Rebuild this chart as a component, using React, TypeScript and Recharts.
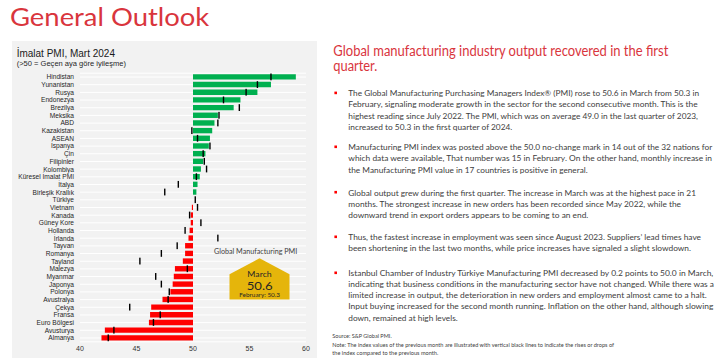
import React from 'react';
import { BarChart, Bar, XAxis, YAxis, CartesianGrid, Cell } from 'recharts';

const countries = [
  'Hindistan', 'Yunanistan', 'Rusya', 'Endonezya', 'Brezilya', 'Meksika', 'ABD', 'Kazakistan',
  'ASEAN', 'İspanya', 'Çin', 'Filipinler', 'Kolombiya', 'Küresel İmalat PMI', 'İtalya',
  'Birleşik Krallık', 'Türkiye', 'Vietnam', 'Kanada', 'Güney Kore', 'Hollanda', 'İrlanda',
  'Tayvan', 'Romanya', 'Tayland', 'Malezya', 'Myanmar', 'Japonya', 'Polonya', 'Avustralya',
  'Çekya', 'Fransa', 'Euro Bölgesi', 'Avusturya', 'Almanya',
];
const pmiMarch = [
  59.1, 56.9, 55.7, 54.2, 53.6, 52.2, 51.9, 51.7,
  51.5, 51.4, 51.1, 50.9, 50.7, 50.6, 50.4,
  50.3, 50.0, 49.9, 49.8, 49.8, 49.7, 49.6,
  49.3, 49.3, 49.1, 48.4, 48.3, 48.2, 48.0, 47.3,
  46.3, 46.2, 46.1, 42.2, 41.9,
];
const pmiFeb = [
  56.9, 55.7, 54.7, 52.7, 54.1, 52.3, 52.2, 49.9,
  50.4, 51.5, 50.9, 51.0, 51.2, 50.3, 48.7,
  47.5, 50.2, 50.4, 49.7, 50.7, 49.3, 52.2,
  48.6, 47.2, 45.3, 49.5, 46.7, 47.2, 47.9, 47.8,
  44.4, 47.1, 46.5, 43.0, 42.5,
];
const xTicks = [40, 45, 50, 55, 60];

const slideTitle = 'General Outlook';
const chartTitle = 'İmalat PMI, Mart 2024';
const chartSubtitle = '(>50 = Geçen aya göre iyileşme)';
const headingLines = ['Global manufacturing industry output recovered in the first', 'quarter.'];
const bullets = [
  [
    'The Global Manufacturing Purchasing Managers Index® (PMI) rose to 50.6 in March from 50.3 in',
    'February, signaling moderate growth in the sector for the second consecutive month. This is the',
    'highest reading since July 2022. The PMI, which was on average 49.0 in the last quarter of 2023,',
    'increased to 50.3 in the first quarter of 2024.',
  ],
  [
    'Manufacturing PMI index was posted above the 50.0 no-change mark in 14 out of the 32 nations for',
    'which data were available, That number was 15 in February. On the other hand, monthly increase in',
    'the Manufacturing PMI value in 17 countries is positive in general.',
  ],
  [
    'Global output grew during the first quarter. The increase in March was at the highest pace in 21',
    'months. The strongest increase in new orders has been recorded since May 2022, while the',
    'downward trend in export orders appears to be coming to an end.',
  ],
  [
    'Thus, the fastest increase in employment was seen since August 2023. Suppliers’ lead times have',
    'been shortening in the last two months, while price increases have signaled a slight slowdown.',
  ],
  [
    'Istanbul Chamber of Industry Türkiye Manufacturing PMI decreased by 0.2 points to 50.0 in March,',
    'indicating that business conditions in the manufacturing sector have not changed. While there was a',
    'limited increase in output, the deterioration in new orders and employment almost came to a halt.',
    'Input buying increased for the second month running. Inflation on the other hand, although slowing',
    'down, remained at high levels.',
  ],
];
const sourceText = 'Source: S&P Global PMI.';
const noteLines = [
  'Note: The index values of the previous month are illustrated with vertical black lines to indicate the rises or drops of',
  'the index compared to the previous month.',
];
const badgeTitle = 'Global Manufacturing PMI';
const badgeMonth = 'March';
const badgeValue = '50.6';
const badgePrev = 'February: 50.3';

// layout (styling only)
const bulletBaselines = [
  [96.2, 107.4, 118.6, 129.8],
  [150.1, 161.3, 172.5],
  [195.5, 206.7, 217.9],
  [240.1, 251.3],
  [276.1, 287.2, 298.3, 309.4, 320.5],
];
const bulletWidths = [
  [350.7, 349.4, 349.7, 164],
  [364, 363.7, 239.4],
  [347.7, 332.7, 240],
  [352.7, 342.7],
  [365, 365.7, 358.4, 365, 109.4],
];

const GREEN = '#00b050';
const RED = '#ff0000';
const SLIDE_RED = '#d9353d';
const BODY = '#404040';
const BODY_FONT = 'Lato, "Open Sans", sans-serif';
const ARIAL = '"Liberation Sans", Arial, sans-serif';
const BAR_H = 5.4;

const data = countries.map((name, i) => ({ name, march: pmiMarch[i], feb: pmiFeb[i] }));

const PrevMark = (props: any) => {
  const { x, y, height } = props;
  if (x == null || isNaN(x)) return null;
  return <rect x={x - 0.7} y={y - 0.7} width={1.4} height={height + 1.4} fill="#000" />;
};

const CategoryTick = (props: any) => {
  const { x, y, payload } = props;
  return (
    <text x={x} y={y} dy="0.36em" textAnchor="end" fontSize={6.6} fill="#262626" fontFamily={ARIAL}>
      {payload.value}
    </text>
  );
};

export default function App() {
  return (
    <div style={{ position: 'absolute', left: 0, top: 0, width: 720, height: 363, background: '#fff', overflow: 'hidden' }}>
      <div style={{ position: 'absolute', left: 11.7, top: 40.7, width: 305, height: 317.6, background: '#f2f2f2' }} />
      <div style={{ position: 'absolute', left: 0, top: 0 }}>
        <BarChart
          layout="vertical"
          width={320}
          height={363}
          data={data}
          margin={{ top: 73.2, right: 14, bottom: 0, left: 0 }}
          barSize={BAR_H}
          barGap={-BAR_H}
          style={{ fontFamily: ARIAL }}
        >
          <CartesianGrid horizontal vertical={false} stroke="#ffffff" strokeWidth={1} />
          <XAxis
            type="number"
            domain={[40, 60]}
            ticks={xTicks}
            allowDataOverflow
            axisLine={false}
            tickLine={false}
            tickSize={2}
            tickMargin={2}
            height={21.2}
            tick={{ fontSize: 7, fill: '#333' }}
          />
          <YAxis
            type="category"
            dataKey="name"
            width={80}
            axisLine={false}
            tickLine={false}
            tickSize={4}
            tickMargin={2}
            interval={0}
            tick={<CategoryTick />}
          />
          <Bar
            dataKey={(d: any) => [Math.min(50, d.march), Math.max(50, d.march)]}
            isAnimationActive={false}
          >
            {data.map((d, i) => (
              <Cell key={i} fill={d.march > 50 ? GREEN : RED} />
            ))}
          </Bar>
          <Bar dataKey={(d: any) => [d.feb, d.feb]} isAnimationActive={false} shape={PrevMark} />
        </BarChart>
      </div>
      <svg
        width={720}
        height={363}
        style={{ position: 'absolute', left: 0, top: 0, pointerEvents: 'none' }}
      >
        <text x={10} y={26} fontSize={25} fill={SLIDE_RED} fontFamily={BODY_FONT} textLength={199.3} lengthAdjust="spacingAndGlyphs">
          {slideTitle}
        </text>
        <text x={16.7} y={56.7} fontSize={10} fill="#1a1a1a" fontFamily={ARIAL} textLength={98.3} lengthAdjust="spacingAndGlyphs">
          {chartTitle}
        </text>
        <text x={16.7} y={65.8} fontSize={7.2} fill="#262626" fontFamily={ARIAL} textLength={109.3} lengthAdjust="spacingAndGlyphs">
          {chartSubtitle}
        </text>

        {/* badge */}
        <text x={214} y={253.5} fontSize={8} fill={BODY} fontFamily={BODY_FONT} textLength={83.3} lengthAdjust="spacingAndGlyphs">
          {badgeTitle}
        </text>
        <polygon points="229.5,274.3 259.5,258.3 289.5,274.3 289.5,299.5 229.5,299.5" fill="#e5b50b" />
        <text x={247.3} y={276.7} fontSize={7.3} fill="#262626" fontFamily={BODY_FONT} textLength={24.4} lengthAdjust="spacingAndGlyphs">
          {badgeMonth}
        </text>
        <text x={246.7} y={290} fontSize={11.8} fill="#262626" fontFamily={BODY_FONT} textLength={26} lengthAdjust="spacingAndGlyphs">
          {badgeValue}
        </text>
        <text x={239.3} y={297.3} fontSize={5.2} fill="#262626" fontFamily={BODY_FONT} textLength={40.7} lengthAdjust="spacingAndGlyphs">
          {badgePrev}
        </text>

        {/* right column */}
        <text x={333.3} y={55.5} fontSize={14.5} fill={SLIDE_RED} fontFamily={BODY_FONT} textLength={335} lengthAdjust="spacingAndGlyphs">
          {headingLines[0]}
        </text>
        <text x={333.3} y={71} fontSize={14.5} fill={SLIDE_RED} fontFamily={BODY_FONT} textLength={44} lengthAdjust="spacingAndGlyphs">
          {headingLines[1]}
        </text>
        {bullets.map((lines, bi) => (
          <g key={bi}>
            <rect x={334.4} y={bulletBaselines[bi][0] - 4.6} width={2.6} height={2.6} fill={RED} />
            {lines.map((line, li) => (
              <text
                key={li}
                x={348.3}
                y={bulletBaselines[bi][li]}
                fontSize={8.3}
                fill={BODY}
                fontFamily={BODY_FONT}
                textLength={bulletWidths[bi][li]}
                lengthAdjust="spacingAndGlyphs"
              >
                {line}
              </text>
            ))}
          </g>
        ))}
        <text x={332.3} y={338.2} fontSize={5.2} fill={BODY} fontFamily={BODY_FONT} textLength={59.4} lengthAdjust="spacingAndGlyphs">
          {sourceText}
        </text>
        <text x={332.3} y={347.4} fontSize={5.2} fill={BODY} fontFamily={BODY_FONT} textLength={281.7} lengthAdjust="spacingAndGlyphs">
          {noteLines[0]}
        </text>
        <text x={332.3} y={355.2} fontSize={5.2} fill={BODY} fontFamily={BODY_FONT} textLength={106} lengthAdjust="spacingAndGlyphs">
          {noteLines[1]}
        </text>
      </svg>
    </div>
  );
}
